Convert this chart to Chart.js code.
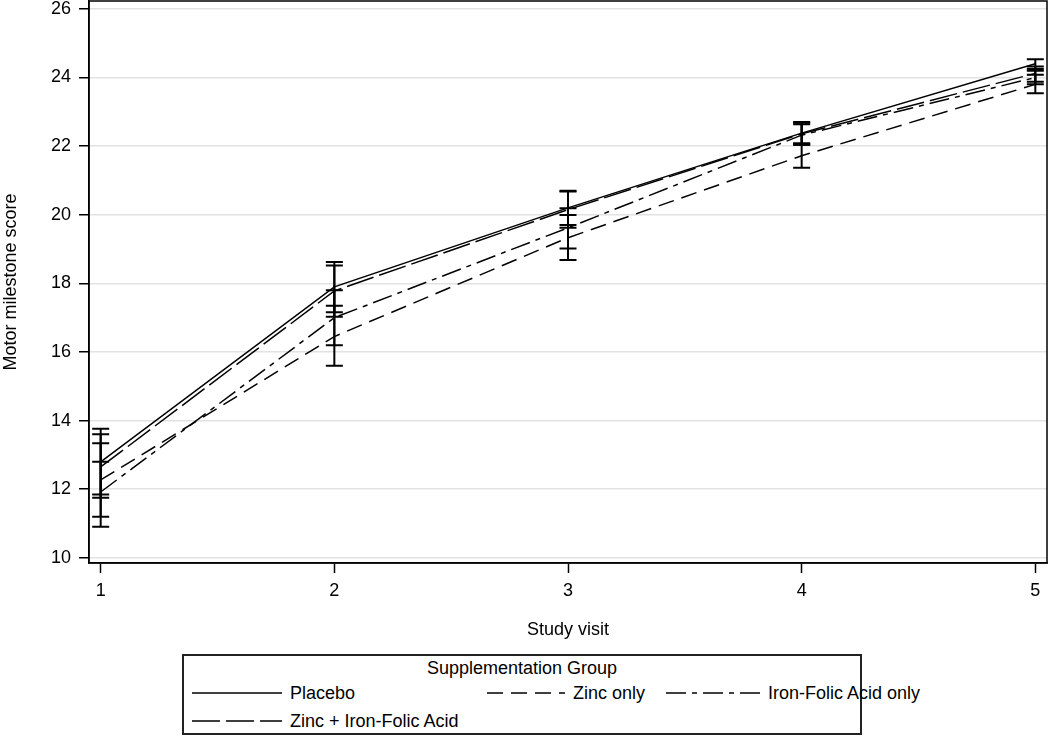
<!DOCTYPE html>
<html>
<head>
<meta charset="utf-8">
<script src="https://cdn.jsdelivr.net/npm/chart.js@4.4.1/dist/chart.umd.min.js"></script>
<style>
  body { margin: 0; background: #fff; font-family: "Liberation Sans", Arial, sans-serif; }
  #wrap { position: relative; width: 1050px; height: 738px; }
  #chartBox { position: absolute; left: 0; top: 0; width: 1050px; height: 645px; }
  #legend { position: absolute; left: 182px; top: 654px; width: 680px; height: 81px;
            border: 2px solid #222; box-sizing: border-box; color: #000; font-size: 18px; }
  #legend .title { position: absolute; left: 0; right: 0; top: 2px; text-align: center; font-size: 18px; }
  #legend .item { position: absolute; height: 22px; line-height: 22px; white-space: nowrap; }
  #legend svg { position: absolute; left: 0; top: 0; }
  #legend span { position: absolute; top: 0; }
</style>
</head>
<body>
<div id="wrap">
  <div id="chartBox"><canvas id="motorChart"></canvas></div>
  <div id="legend"><div class="title">Supplementation Group</div></div>
</div>
<script>
// study visits and tick labels
const visits = [1, 2, 3, 4, 5];
const yTicks = [10, 12, 14, 16, 18, 20, 22, 24, 26];

// mean motor milestone score per group
const placebo  = [12.80, 17.90, 20.20, 22.38, 24.40];
const zincOnly = [12.27, 16.45, 19.33, 21.72, 23.80];
const ironOnly = [11.92, 17.00, 19.62, 22.32, 24.00];
const zincIron = [12.65, 17.78, 20.15, 22.36, 24.12];

// confidence limits
const placeboLow  = [11.85, 17.16, 19.70, 22.04, 24.25];
const placeboHigh = [13.76, 18.62, 20.70, 22.70, 24.53];
const zincOnlyLow  = [11.20, 15.60, 18.68, 21.37, 23.54];
const zincOnlyHigh = [13.34, 17.35, 19.99, 22.08, 24.08];
const ironOnlyLow  = [10.91, 16.20, 19.02, 22.08, 23.80];
const ironOnlyHigh = [12.80, 17.80, 20.19, 22.64, 24.20];
const zincIronLow  = [11.75, 17.03, 19.62, 22.04, 23.88];
const zincIronHigh = [13.60, 18.52, 20.68, 22.68, 24.32];

const groups = [
  { label: 'Placebo', values: placebo, low: placeboLow, high: placeboHigh, dash: [] },
  { label: 'Zinc only', values: zincOnly, low: zincOnlyLow, high: zincOnlyHigh, dash: [16, 8] },
  { label: 'Iron-Folic Acid only', values: ironOnly, low: ironOnlyLow, high: ironOnlyHigh, dash: [20, 6, 5, 6] },
  { label: 'Zinc + Iron-Folic Acid', values: zincIron, low: zincIronLow, high: zincIronHigh, dash: [28, 6] }
];

const errorBars = {
  id: 'errorBars',
  afterDatasetsDraw(chart) {
    const { ctx, scales: { x, y } } = chart;
    ctx.save();
    ctx.strokeStyle = '#000';
    ctx.lineWidth = 2;
    groups.forEach(g => {
      visits.forEach((v, i) => {
        const px = x.getPixelForValue(v);
        const lo = y.getPixelForValue(g.low[i]);
        const hi = y.getPixelForValue(g.high[i]);
        ctx.beginPath();
        ctx.moveTo(px, lo); ctx.lineTo(px, hi);
        ctx.moveTo(px - 8.5, lo); ctx.lineTo(px + 8.5, lo);
        ctx.moveTo(px - 8.5, hi); ctx.lineTo(px + 8.5, hi);
        ctx.stroke();
      });
    });
    ctx.restore();
  }
};

// box round the plot area
const frame = {
  id: 'frame',
  afterDraw(chart) {
    const { ctx, chartArea: a } = chart;
    ctx.save();
    ctx.strokeStyle = '#000';
    ctx.lineWidth = 1.5;
    ctx.strokeRect(a.left, a.top, a.right - a.left, a.bottom - a.top);
    ctx.restore();
  }
};

const tickFont = { family: '"Liberation Sans", Arial, sans-serif', size: 18 };
const titleFont = { family: '"Liberation Sans", Arial, sans-serif', size: 18 };

new Chart(document.getElementById('motorChart'), {
  type: 'line',
  data: {
    datasets: groups.map(g => ({
      label: g.label,
      data: visits.map((v, i) => ({ x: v, y: g.values[i] })),
      borderColor: '#000',
      borderWidth: 1.5,
      borderDash: g.dash,
      pointRadius: 0,
      fill: false,
      tension: 0
    }))
  },
  options: {
    responsive: true,
    maintainAspectRatio: false,
    animation: false,
    layout: { padding: { top: 1, right: 3 } },
    plugins: { legend: { display: false }, tooltip: { enabled: false } },
    scales: {
      x: {
        type: 'linear',
        min: 0.95,
        max: 5.05,
        afterBuildTicks: s => { s.ticks = visits.map(v => ({ value: v })); },
        afterFit: s => { s.height = 82; s.paddingLeft = 0; s.paddingRight = 0; },
        grid: { drawOnChartArea: false, tickLength: 10, tickColor: '#000', tickWidth: 1.5 },
        border: { color: '#000', width: 1.5 },
        ticks: { font: tickFont, color: '#000', padding: 7 },
        title: { display: true, text: 'Study visit', font: titleFont, color: '#000', padding: { top: 8 } }
      },
      y: {
        min: 9.85,
        max: 26.23,
        afterBuildTicks: s => { s.ticks = yTicks.map(v => ({ value: v })); },
        afterFit: s => { s.width = 89; s.paddingTop = 0; s.paddingBottom = 0; },
        grid: { color: '#e2e2e2', lineWidth: 1.5, tickLength: 10, tickColor: '#000', tickWidth: 1.5 },
        border: { color: '#000', width: 1.5 },
        ticks: { font: tickFont, color: '#000', padding: 8 },
        title: { display: true, text: 'Motor milestone score', font: titleFont, color: '#000', padding: 0 }
      }
    }
  },
  plugins: [errorBars, frame]
});

// legend built from the same group list
const legendBox = document.getElementById('legend');
const slots = [
  { left: 8, top: 26, sample: 90 },
  { left: 303, top: 26, sample: 78 },
  { left: 482, top: 26, sample: 94 },
  { left: 8, top: 54, sample: 90 }
];
groups.forEach((g, i) => {
  const s = slots[i];
  const item = document.createElement('div');
  item.className = 'item';
  item.style.left = s.left + 'px';
  item.style.top = s.top + 'px';
  item.innerHTML =
    '<svg width="' + s.sample + '" height="22"><line x1="0" y1="11" x2="' + s.sample +
    '" y2="11" stroke="#000" stroke-width="1.5" stroke-dasharray="' + (g.dash.length ? g.dash.join(' ') : 'none') +
    '"/></svg><span style="left:' + (s.sample + 8) + 'px">' + g.label + '</span>';
  legendBox.appendChild(item);
});
</script>
</body>
</html>
